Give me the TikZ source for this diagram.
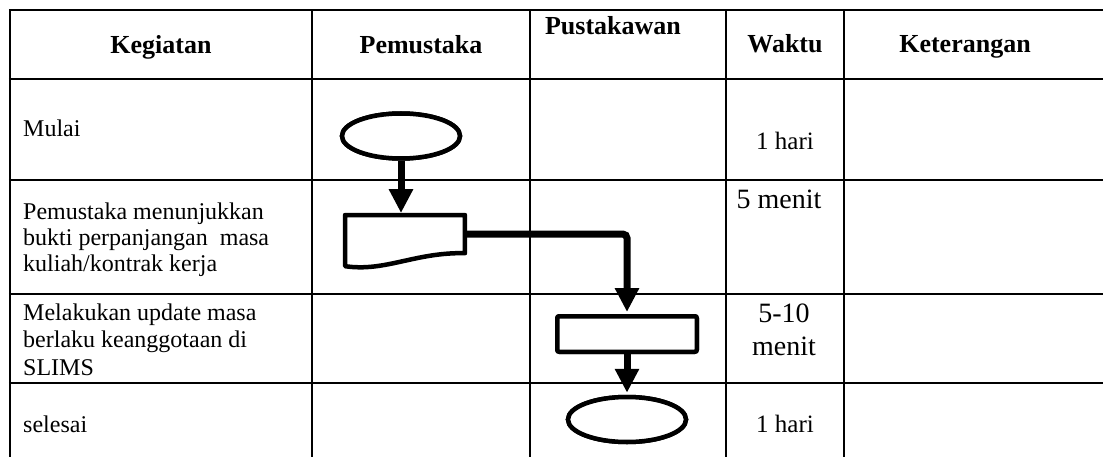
\documentclass[tikz,border=0pt]{standalone}
\usepackage{fontspec}
\setmainfont{Liberation Serif}
\usetikzlibrary{shapes.geometric,arrows.meta}
\begin{document}
\begin{tikzpicture}[x=1pt,y=-1pt,
  gridline/.style={line width=2.5pt},
  term/.style={ellipse,draw,line width=4.5pt,fill=white,inner sep=0pt,minimum width=118pt,minimum height=45pt},
  procbox/.style={rectangle,draw,line width=4.5pt,fill=white,rounded corners=2pt,inner sep=0pt,minimum width=139.5pt,minimum height=35.5pt},
  docbox/.style={rectangle,inner sep=0pt,minimum width=119.5pt,minimum height=37.75pt},
  docline/.style={draw,line width=4.5pt,fill=white,line join=round},
  flow/.style={line width=7pt,-{Triangle[width=23pt,length=24pt]},shorten >=2pt},
  hdr/.style={font=\fontsize{26}{30}\selectfont\bfseries,inner sep=0pt,anchor=base},
  lefttext/.style={font=\fontsize{24}{27}\selectfont,inner sep=0pt,anchor=base west},
  timetext/.style={font=\fontsize{25}{28}\selectfont,inner sep=0pt,anchor=base},
  timebig/.style={font=\fontsize{28}{32}\selectfont,inner sep=0pt,anchor=base}
]
\useasboundingbox (0,0) rectangle (1103,457);
\fill[white] (0,0) rectangle (1103,457);

% table
\foreach \yy in {10,79,180,294,383} \draw[gridline] (8.75,\yy) -- (1103,\yy);
\foreach \xx in {10,312,530,726,844} \draw[gridline] (\xx,10) -- (\xx,457);

% header
\node[hdr] (hkeg) at (161,54) {Kegiatan};
\node[hdr] (hpem) at (421,54) {Pemustaka};
\node[hdr] (hpus) at (613,35) {Pustakawan};
\node[hdr] (hwak) at (785,53) {Waktu};
\node[hdr] (hket) at (965,53) {Keterangan};

% Kegiatan column
\node[lefttext] (k1) at (23,137) {Mulai};
\node[lefttext] (k2a) at (23,219) {Pemustaka menunjukkan};
\node[lefttext] (k2b) at (23,246) {bukti perpanjangan\ \ masa};
\node[lefttext] (k2c) at (23,272) {kuliah/kontrak kerja};
\node[lefttext] (k3a) at (23,320) {Melakukan update masa};
\node[lefttext] (k3b) at (23,347) {berlaku keanggotaan di};
\node[lefttext] (k3c) at (23,375) {SLIMS};
\node[lefttext] (k4) at (23,432) {selesai};

% Waktu column
\node[timetext] (w1) at (785,150) {1 hari};
\node[timebig] (w2) at (779,209) {5 menit};
\node[timebig] (w3a) at (784,322) {5-10};
\node[timebig] (w3b) at (784,355) {menit};
\node[timetext] (w4) at (785,432) {1 hari};

% flow shapes (positions)
\node[term] (start) at (401,136) {};
\node[docbox] (doc) at (405,234.1) {};
\node[procbox] (proc) at (627,334) {};
\node[term] (stop) at (627,419.5) {};

% connectors
\draw[flow] (start.south) -- (start.south |- doc.north);
\draw[flow,rounded corners=4pt] (doc.east) -- (proc.north |- doc.east) -- (proc.north);
\draw[flow] (proc.south) -- (stop.north);

% shapes on top
\node[term] at (start) {};
\path[docline] (doc.south east) -- (doc.north east) -- (doc.north west) -- ([yshift=-13pt]doc.south west)
  .. controls +(40,6) and +(-50,-1) .. (doc.south east) -- cycle;
\node[procbox] at (proc) {};
\node[term] at (stop) {};
\end{tikzpicture}
\end{document}
